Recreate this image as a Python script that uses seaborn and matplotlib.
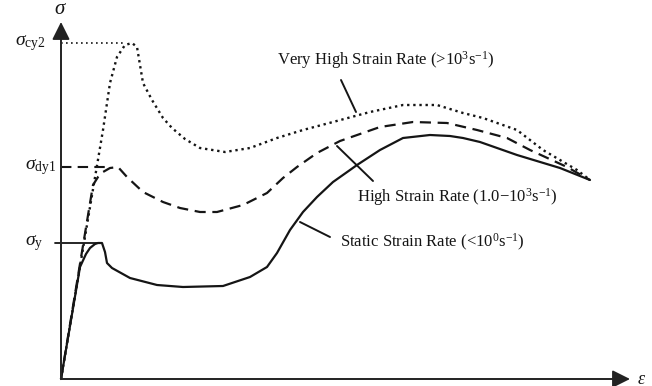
import matplotlib
matplotlib.use("Agg")
import matplotlib.pyplot as plt
import seaborn as sns
import pandas as pd

# Strain (eps) / stress (sig) points for each loading-rate curve, in chart units
static_eps = [0, 19, 25, 29, 34, 37, 41, 44, 46, 51, 69, 96, 122, 162, 189, 206, 216,
              229, 242, 256, 272, 289, 296, 319, 342, 369, 389, 402, 419, 456, 499, 529]
static_sig = [0, 112, 125, 131, 135, 136, 136, 127, 116, 111, 101, 94, 92, 93, 102, 112,
              126, 149, 167, 182, 197, 209, 214, 229, 241, 244, 243, 241, 237, 224, 211, 199]

high_eps = [0, 32, 37, 42, 49, 57, 66, 82, 102, 119, 139, 156, 182, 206, 222, 236, 256,
            279, 319, 352, 386, 416, 446, 469, 506, 529]
high_sig = [0, 194, 202, 207, 211, 212, 202, 187, 177, 171, 167, 167, 174, 186, 201, 212,
            226, 238, 252, 257, 256, 249, 241, 229, 212, 199]

vhigh_eps = [0, 42, 49, 56, 64, 71, 76, 82, 91, 102, 111, 124, 139, 164, 189, 216, 242,
             272, 309, 342, 376, 402, 422, 456, 482, 516, 529]
vhigh_sig = [0, 249, 296, 322, 334, 336, 332, 296, 279, 261, 251, 240, 231, 227, 231, 241,
             249, 257, 267, 274, 274, 266, 261, 249, 229, 209, 199]

# Yield levels marked on the stress axis
yield_levels = [136, 212, 336]
yield_labels = [r"$\sigma_{\mathrm{y}}$", r"$\sigma_{\mathrm{dy1}}$", r"$\sigma_{\mathrm{cy2}}$"]

curve_labels = [
    r"Static Strain Rate (<10$^{0}$s$^{-1}$)",
    r"High Strain Rate (1.0$-$10$^{3}$s$^{-1}$)",
    r"Very High Strain Rate (>10$^{3}$s$^{-1}$)",
]

sns.set_theme(style="white")
plt.rcParams["font.family"] = ["Liberation Serif", "DejaVu Serif"]
plt.rcParams["mathtext.fontset"] = "custom"
plt.rcParams["mathtext.rm"] = "Liberation Serif"
plt.rcParams["mathtext.it"] = "Liberation Serif:italic"
plt.rcParams["mathtext.cal"] = "Liberation Serif"

ink = "#151515"
axis_col = "#555555"

fig = plt.figure(figsize=(6.52, 3.86), dpi=100)
ax = fig.add_axes([0, 0, 1, 1])
ax.set_xlim(-61, 591)
ax.set_ylim(-7, 379)
ax.axis("off")

df_static = pd.DataFrame({"eps": static_eps, "sig": static_sig})
df_high = pd.DataFrame({"eps": high_eps, "sig": high_sig})
df_vhigh = pd.DataFrame({"eps": vhigh_eps, "sig": vhigh_sig})

sns.lineplot(data=df_static, x="eps", y="sig", sort=False, color=ink, lw=1.6, ax=ax)
sns.lineplot(data=df_high, x="eps", y="sig", sort=False, color=ink, lw=1.6,
             linestyle=(0, (5, 3)), ax=ax)
sns.lineplot(data=df_vhigh, x="eps", y="sig", sort=False, color=ink, lw=1.7,
             linestyle=(0, (1, 1.6)), ax=ax)
ax.set_xlabel("")
ax.set_ylabel("")

# Guide lines from the stress axis to each yield peak
peak_static = static_eps[static_sig.index(max(static_sig[:12]))]
peak_high = high_eps[high_sig.index(max(high_sig[:8]))]
peak_vhigh = vhigh_eps[vhigh_sig.index(max(vhigh_sig))]
ax.plot([-6, peak_static], [yield_levels[0]] * 2, color=ink, lw=1.3)
ax.plot([0, peak_high - 8], [yield_levels[1]] * 2, color=ink, lw=1.5, linestyle=(0, (5, 3)))
ax.plot([0, peak_vhigh - 7], [yield_levels[2]] * 2, color=ink, lw=1.2, linestyle=(0, (1, 2)))

# Axes with arrow heads
arrow = dict(arrowstyle="-|>,head_length=0.9,head_width=0.45", lw=1.3,
             shrinkA=0, shrinkB=0, color="#222222")
ax.annotate("", xy=(0, 357), xytext=(0, 0), arrowprops=arrow)
ax.annotate("", xy=(569, 0), xytext=(0, 0), arrowprops=arrow)
ax.plot([0, 0], [0, 345], color=axis_col, lw=1.3)
ax.plot([0, 556], [0, 0], color=axis_col, lw=1.3)

ax.text(-1, 369, r"$\sigma$", fontsize=15, ha="center", va="center", color=ink)
ax.text(581, 0, r"$\varepsilon$", fontsize=13, ha="center", va="center", color=ink)

label_x = [-18, -5, -15]
for lvl, lab, lx in zip(yield_levels, yield_labels, label_x):
    ax.text(lx, lvl, lab, fontsize=14, ha="right", va="center", color=ink)

# Curve annotations with leader lines
text_pos = [(279, 137), (296, 182), (216, 319)]
leader = [((239, 157), (269, 142)), ((276, 233), (312, 198)), ((280, 299), (295, 267))]
for lab, (tx, ty), (p0, p1) in zip(curve_labels, text_pos, leader):
    ax.text(tx, ty, lab, fontsize=12, ha="left", va="center", color=ink)
    ax.plot([p0[0], p1[0]], [p0[1], p1[1]], color=ink, lw=1.4)

fig.savefig("out.png", dpi=100)
